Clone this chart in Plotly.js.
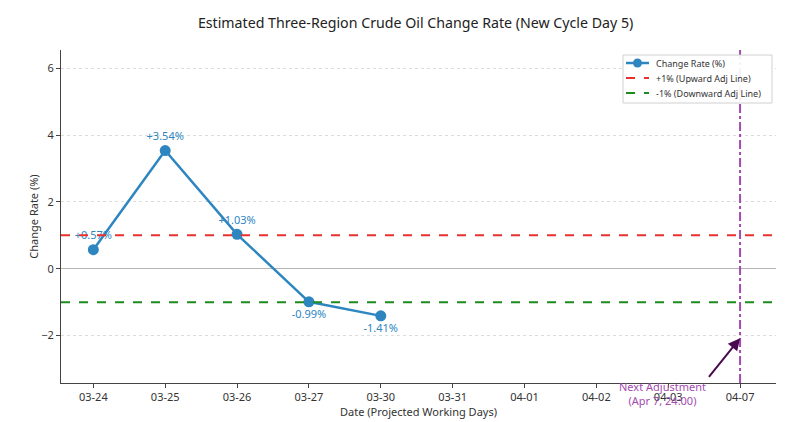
<!DOCTYPE html>
<html><head><meta charset="utf-8">
<script src="https://cdn.plot.ly/plotly-3.0.1.min.js"></script>
<style>html,body{margin:0;padding:0;background:#fff}#chart{width:807px;height:422px}</style>
</head><body><div id="chart"></div>
<script>
const dates = ["03-24","03-25","03-26","03-27","03-30","03-31","04-01","04-02","04-03","04-07"];
const obsDates = ["03-24","03-25","03-26","03-27","03-30"];
const changeRate = [0.57, 3.54, 1.03, -0.99, -1.41];
const rateLabels = ["+0.57%","+3.54%","+1.03%","-0.99%","-1.41%"];
const labelPos = ["top center","top center","top center","bottom center","bottom center"];
const upLine = 1;
const downLine = -1;
const nextAdjDate = "04-07";
const nextAdjText = "Next Adjustment<br>(Apr 7, 24:00)";
const legendNames = ["Change Rate (%)", "+1% (Upward Adj Line)", "-1% (Downward Adj Line)"];

const FONT = "Noto Sans, Open Sans, sans-serif";
const blue = "#2E86C1";
const red = "#E8302F";
const green = "#1E8B1E";
const purple = "#A34BB0";

// plot area in pixels for legend placement
const L = 61, T = 50, W = 715, H = 333;
const px = v => (v - L) / W;
const py = v => 1 - (v - T) / H;

const traces = [
  {x: obsDates, y: changeRate, type: "scatter", mode: "lines+markers+text",
   name: legendNames[0], line: {color: blue, width: 2.5},
   marker: {color: blue, size: 11}, text: rateLabels, textposition: labelPos,
   textfont: {color: blue, size: 11, family: FONT}, cliponaxis: false},
  {x: [0, 1], y: [upLine, upLine], xaxis: "x2", type: "scatter", mode: "lines",
   name: legendNames[1], line: {color: red, width: 2, dash: "dash"}},
  {x: [0, 1], y: [downLine, downLine], xaxis: "x2", type: "scatter", mode: "lines",
   name: legendNames[2], line: {color: green, width: 2, dash: "dash"}}
];

const rowsY = [63, 78, 93];
const shapes = [
  {type: "line", xref: "x", yref: "paper", x0: nextAdjDate, x1: nextAdjDate, y0: 0, y1: 1,
   line: {color: purple, width: 2, dash: "dashdot"}},
  {type: "rect", xref: "paper", yref: "paper", x0: px(623), x1: px(772), y0: py(103), y1: py(55),
   line: {color: "#d0d0d0", width: 1}, fillcolor: "rgba(255,255,255,0.92)"},
  {type: "line", xref: "paper", yref: "paper", x0: px(626), x1: px(649), y0: py(rowsY[0]), y1: py(rowsY[0]),
   line: {color: blue, width: 2.5}},
  {type: "circle", xref: "paper", yref: "paper", x0: px(633), x1: px(642), y0: py(rowsY[0] + 4.5), y1: py(rowsY[0] - 4.5),
   line: {color: blue, width: 0}, fillcolor: blue},
  {type: "line", xref: "paper", yref: "paper", x0: px(626), x1: px(649), y0: py(rowsY[1]), y1: py(rowsY[1]),
   line: {color: red, width: 2, dash: "dash"}},
  {type: "line", xref: "paper", yref: "paper", x0: px(626), x1: px(649), y0: py(rowsY[2]), y1: py(rowsY[2]),
   line: {color: green, width: 2, dash: "dash"}}
];

const annotations = [
  {xref: "x", yref: "y", x: 9, y: -2.08, axref: "x", ayref: "y", ax: 8.55, ay: -3.28,
   text: "", showarrow: true, arrowhead: 2, arrowsize: 1.2, arrowwidth: 2, arrowcolor: "#4A0A4E"},
  {xref: "x", yref: "paper", x: 7.92, y: -0.031, text: nextAdjText, showarrow: false,
   font: {size: 11, color: purple, family: FONT}, align: "center", xanchor: "center", yanchor: "middle"}
];
legendNames.forEach((n, i) => annotations.push({
  xref: "paper", yref: "paper", x: px(654), y: py(rowsY[i]), text: n, showarrow: false,
  xanchor: "left", yanchor: "middle", font: {size: 9, color: "#333", family: FONT}
}));

const layout = {
  width: 807, height: 422,
  margin: {l: 61, r: 31, t: 50, b: 39},
  paper_bgcolor: "#fff", plot_bgcolor: "#fff",
  font: {family: FONT, color: "#333", size: 11},
  title: {text: "Estimated Three-Region Crude Oil Change Rate (New Cycle Day 5)",
          font: {size: 14.2, color: "#222", family: FONT}, x: 0.515, xanchor: "center", y: 0.945, yanchor: "middle"},
  xaxis: {type: "category", categoryorder: "array", categoryarray: dates,
          range: [-0.45, 9.5], showgrid: false, showline: true, linecolor: "#444", linewidth: 1,
          ticks: "outside", ticklen: 4, tickcolor: "#444", tickfont: {size: 11, color: "#333"},
          title: {text: "Date (Projected Working Days)", font: {size: 11, color: "#333"}, standoff: 4},
          zeroline: false},
  xaxis2: {overlaying: "x", range: [0, 1], visible: false, fixedrange: true},
  yaxis: {range: [-3.42, 6.55], tickvals: [-2, 0, 2, 4, 6], showgrid: true, gridcolor: "#dcdcdc",
          griddash: "dot", gridwidth: 1, zeroline: true, zerolinecolor: "#b5b5b5", zerolinewidth: 1,
          showline: true, linecolor: "#444", linewidth: 1, ticks: "outside", ticklen: 4, tickcolor: "#444",
          tickfont: {size: 11, color: "#333"},
          title: {text: "Change Rate (%)", font: {size: 11, color: "#333"}, standoff: 0}},
  shapes: shapes,
  annotations: annotations,
  showlegend: false
};

Plotly.newPlot("chart", traces, layout, {displayModeBar: false, staticPlot: true});
</script>
</body></html>
